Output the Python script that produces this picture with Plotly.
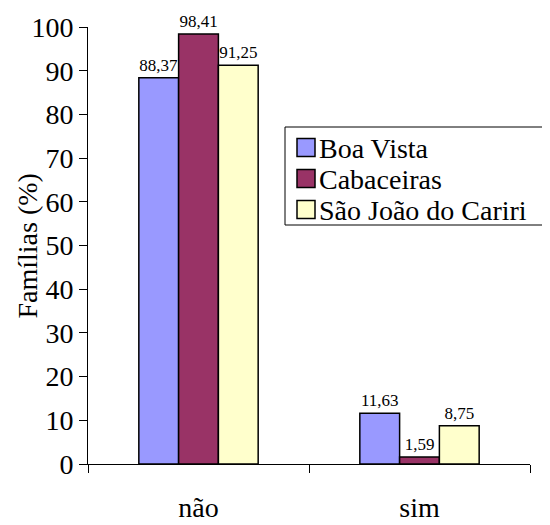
import plotly.graph_objects as go

# dados
categorias = ["não", "sim"]
boa_vista = [88.37, 11.63]
cabaceiras = [98.41, 1.59]
sao_joao = [91.25, 8.75]

series = [("Boa Vista", boa_vista, "#9999FF"),
          ("Cabaceiras", cabaceiras, "#993366"),
          ("São João do Cariri", sao_joao, "#FFFFCC")]

fonte = "Liberation Serif"

fig = go.Figure()
for nome, vals, cor in series:
    fig.add_trace(go.Bar(x=categorias, y=vals, name=nome,
                         marker=dict(color=cor, line=dict(color="black", width=1.5)),
                         texttemplate="%{y:.2f}", textposition="outside",
                         textfont=dict(family=fonte, size=17, color="black"),
                         cliponaxis=False, showlegend=False))

# área do gráfico em pixels (para converter a legenda em coordenadas "paper")
x0_px, x1_px, ytop_px, ybot_px = 88, 530, 27, 464
def px_x(p):
    return (p - x0_px) / (x1_px - x0_px)
def px_y(p):
    return (ybot_px - p) / (ybot_px - ytop_px)

# legenda desenhada à mão (caixa + quadrados + textos)
shapes = [dict(type="rect", xref="paper", yref="paper",
               x0=px_x(285), x1=px_x(600), y0=px_y(225), y1=px_y(127),
               line=dict(color="black", width=1), fillcolor="white", layer="above")]
annots = []
for i, (nome, vals, cor) in enumerate(series):
    yc = 147.5 + 31 * i
    shapes.append(dict(type="rect", xref="paper", yref="paper",
                       x0=px_x(297), x1=px_x(315), y0=px_y(yc + 9), y1=px_y(yc - 9),
                       line=dict(color="black", width=1.5), fillcolor=cor, layer="above"))
    annots.append(dict(text=nome, xref="paper", yref="paper", x=px_x(317), y=px_y(yc + 1),
                       xanchor="left", yanchor="middle", showarrow=False,
                       font=dict(family=fonte, size=28, color="black")))

# título do eixo y
annots.append(dict(text="Famílias (%)", xref="paper", yref="paper", x=px_x(27), y=0.5,
                   xanchor="center", yanchor="middle", textangle=-90, showarrow=False,
                   font=dict(family=fonte, size=28, color="black")))

# a página tem margem de 8px no body, por isso a figura é um pouco menor
fig.update_layout(
    width=542, height=517,
    margin=dict(l=80, r=20, t=19, b=61),
    paper_bgcolor="white", plot_bgcolor="white",
    separators=",.",
    font=dict(family=fonte, color="black"),
    barmode="group", bargap=0.46, bargroupgap=0,
    showlegend=False,
    shapes=shapes, annotations=annots,
    xaxis=dict(showline=True, linecolor="black", linewidth=1,
               ticks="outside", ticklen=8, tickcolor="black", tickson="boundaries",
               tickfont=dict(size=28, family=fonte), ticklabelstandoff=18, showgrid=False,
               automargin=False),
    yaxis=dict(range=[0, 100], dtick=10, showline=True, linecolor="black", linewidth=1,
               ticks="outside", ticklen=8, tickcolor="black", showgrid=False,
               zeroline=False, tickfont=dict(size=28, family=fonte), automargin=False),
)

fig.write_html("out.html")
